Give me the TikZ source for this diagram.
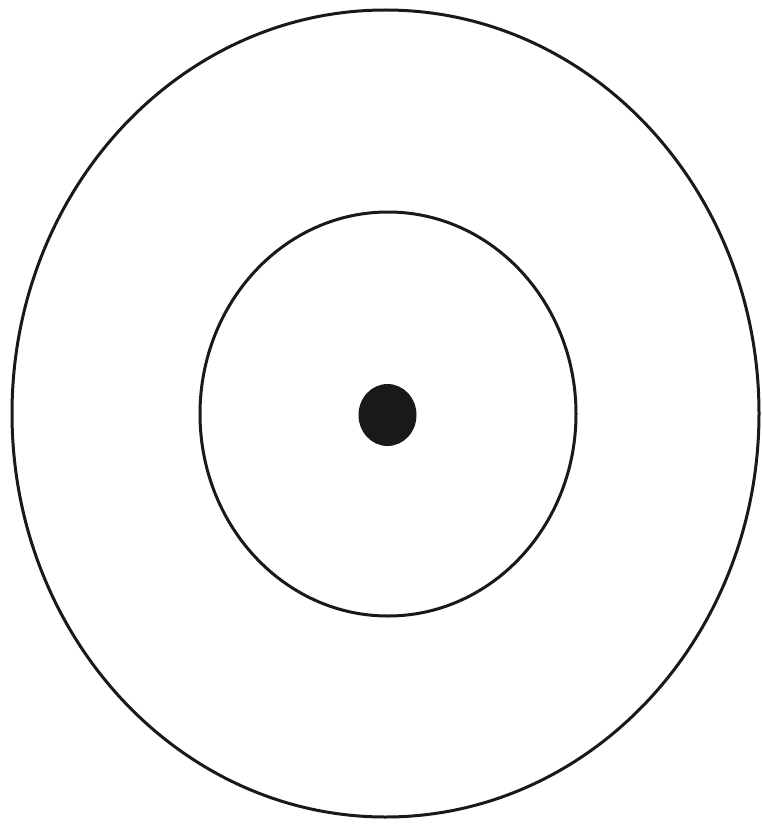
\documentclass[tikz,border=0pt]{standalone}
\begin{document}
\begin{tikzpicture}[x=1pt,y=-1pt,ring/.style={draw=black!90,line width=3pt}]
\useasboundingbox[fill=white] (0,0) rectangle (761,824);
\draw[ring] (385.5,413.5) ellipse [x radius=373.5,y radius=403.5];
\draw[ring] (388,414) ellipse [x radius=188,y radius=202];
\fill[black!90] (387.5,415) ellipse [x radius=29,y radius=31];
\end{tikzpicture}
\end{document}
